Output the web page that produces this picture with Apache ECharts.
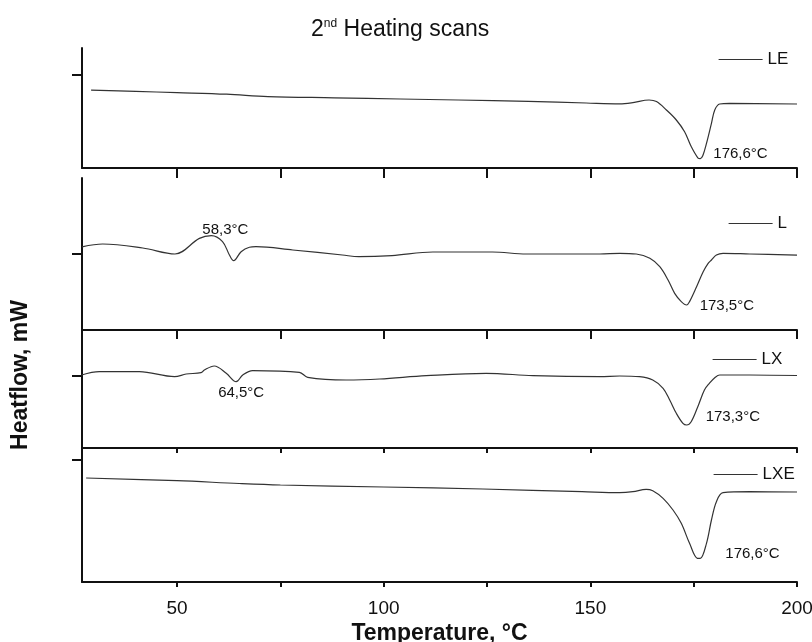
<!DOCTYPE html>
<html>
<head>
<meta charset="utf-8">
<script src="https://cdn.jsdelivr.net/npm/echarts@6/dist/echarts.min.js"></script>
<style>
  html, body { margin: 0; padding: 0; background: #fff; }
  #chart { width: 812px; height: 642px; }
</style>
</head>
<body>
<div id="chart"></div>
<script>
// ----------------------
// DATA (temperature °C, heat flow mW relative to each panel's tick)
// ----------------------
const leT = [29.2, 40, 50, 62, 72, 88, 104, 118, 135, 149, 157.1, 160.3, 164.2, 166, 168.4, 170.8, 172.8, 174.4, 176, 176.6, 177.2, 178.1, 179.3, 180.1, 181.3, 183.7, 200];
const leH = [-0.38, -0.41, -0.44, -0.48, -0.54, -0.57, -0.6, -0.625, -0.66, -0.7, -0.72, -0.69, -0.625, -0.665, -0.875, -1.125, -1.42, -1.79, -2.07, -2.09, -2.02, -1.71, -1.21, -0.875, -0.725, -0.71, -0.725];

const lT = [27, 32, 41.7, 49.5, 55.4, 58.3, 61, 62.7, 63.7, 65.5, 67.5, 69.1, 78, 90, 94, 102, 111.9, 126.3, 134.5, 152.3, 157.1, 161.1, 164.4, 166.8, 168.8, 170.4, 172, 173.3, 174, 175.7, 177.3, 178.5, 179.3, 180.5, 182.1, 188.6, 200];
const lH = [0.18, 0.25, 0.15, 0, 0.39, 0.458, 0.31, -0.03, -0.168, 0.058, 0.168, 0.183, 0.1, -0.025, -0.068, -0.04, 0.05, 0.05, 0, 0, 0.018, 0, -0.108, -0.318, -0.65, -0.983, -1.19, -1.275, -1.19, -0.818, -0.443, -0.233, -0.15, -0.025, 0.018, 0, -0.03];

const lxT = [26.9, 31.2, 40.9, 49.4, 52.2, 55.8, 56.6, 59, 61.9, 64.3, 65.9, 68.3, 79.6, 81.6, 90.9, 99, 110.3, 124.8, 136.1, 152.3, 157.1, 161.9, 165.1, 167.6, 169.2, 170.8, 172.4, 173.3, 174.4, 176, 177.6, 178.8, 180.1, 181.3, 188.6, 200];
const lxH = [0.025, 0.108, 0.108, -0.018, 0.05, 0.083, 0.15, 0.25, 0.068, -0.143, 0.025, 0.133, 0.093, -0.033, -0.1, -0.075, 0.008, 0.068, 0.008, -0.018, 0, -0.018, -0.1, -0.308, -0.6, -0.933, -1.183, -1.225, -1.143, -0.768, -0.35, -0.183, -0.043, 0.025, 0.025, 0.012];

const lxeT = [28, 50, 65, 75, 100, 124, 148, 157.1, 160.3, 163.5, 165.1, 167.6, 170, 172, 174, 175.9, 176.6, 178.1, 179.3, 180.5, 182.1, 188.6, 200];
const lxeH = [-0.45, -0.518, -0.588, -0.625, -0.675, -0.725, -0.793, -0.818, -0.793, -0.733, -0.768, -0.958, -1.25, -1.583, -2.083, -2.458, -2.46, -2.083, -1.5, -1.043, -0.818, -0.793, -0.8];

const names = ["LE", "L", "LX", "LXE"];
const xTicks = [50, 75, 100, 125, 150, 175, 200];
const xLabels = [50, 100, 150, 200];

// peak annotations: [temperature, heat flow, text]
const peaksLE = [[176.6, -2.09, "176,6°C"]];
const peaksL = [[58.3, 0.458, "58,3°C"], [173.3, -1.275, "173,5°C"]];
const peaksLX = [[64.3, -0.143, "64,5°C"], [173.3, -1.225, "173,3°C"]];
const peaksLXE = [[176.6, -2.46, "176,6°C"]];

// ----------------------
// LAYOUT
// ----------------------
const FONT = "'Liberation Sans', Arial, sans-serif";
const panels = [
  { top: 48, height: 120, yMin: -2.325, yMax: 0.675, tick: 10, legend: [718, 51] },
  { top: 178, height: 152, yMin: -1.9, yMax: 1.9, tick: 9, legend: [728, 215] },
  { top: 330, height: 118, yMin: -1.8, yMax: 1.15, tick: 5, legend: [712, 351] },
  { top: 448, height: 134, yMin: -3.05, yMax: 0.3, tick: 5, legend: [713, 466] },
];

const temps = [leT, lT, lxT, lxeT];
const flows = [leH, lH, lxH, lxeH];
const peaks = [peaksLE, peaksL, peaksLX, peaksLXE];
const labelOffsets = [
  [[13, -5]],
  [[14, 2], [13, 1]],
  [[5, 4], [19, -8]],
  [[25, -5]],
];
const labelPos = [["right"], ["top", "right"], ["bottom", "right"], ["right"]];

const axisLine = { show: true, onZero: false, lineStyle: { color: "#111", width: 2 } };

const chart = echarts.init(document.getElementById("chart"));

chart.setOption({
  backgroundColor: "#fff",
  animation: false,
  title: {
    text: "{n|2}{s|nd}{n| Heating scans}",
    left: 306,
    top: 13,
    textStyle: {
      rich: {
        n: { fontSize: 23, fontWeight: "normal", fontFamily: FONT, color: "#111" },
        s: { fontSize: 12, fontWeight: "normal", fontFamily: FONT, color: "#111", padding: [0, 0, 11, 0] },
      },
    },
  },
  legend: panels.map((p, i) => ({
    data: [names[i]],
    left: p.legend[0],
    top: p.legend[1],
    padding: 0,
    itemWidth: 44,
    itemHeight: 14,
    itemStyle: { color: "transparent", borderWidth: 0 },
    lineStyle: { color: "#333", width: 1.2 },
    textStyle: { fontSize: 17, fontFamily: FONT, color: "#111" },
  })),
  grid: panels.map((p) => ({
    left: 82,
    right: 15,
    top: p.top,
    height: p.height,
    containLabel: false,
    outerBoundsMode: "none",
  })),
  xAxis: panels.map((p, i) => ({
    type: "value",
    gridIndex: i,
    min: 27,
    max: 200,
    axisLine: axisLine,
    axisTick: { show: true, customValues: xTicks, length: p.tick, lineStyle: { color: "#111", width: 2 } },
    axisLabel: i === 3
      ? { show: true, customValues: xLabels, fontSize: 19, fontFamily: FONT, color: "#111", margin: 17 }
      : { show: false },
    splitLine: { show: false },
    name: i === 3 ? "Temperature, °C" : "",
    nameLocation: "middle",
    nameGap: 40,
    nameTextStyle: { fontSize: 23, fontWeight: "bold", fontFamily: FONT, color: "#111" },
  })),
  yAxis: panels.map((p, i) => ({
    type: "value",
    gridIndex: i,
    min: p.yMin,
    max: p.yMax,
    axisLine: axisLine,
    axisTick: { show: true, customValues: [0], length: 10, lineStyle: { color: "#111", width: 2 } },
    axisLabel: { show: false },
    splitLine: { show: false },
  })),
  graphic: [
    {
      type: "text",
      x: 21,
      y: 375,
      rotation: Math.PI / 2,
      style: {
        text: "Heatflow, mW",
        fontSize: 23,
        fontWeight: "bold",
        fontFamily: FONT,
        fill: "#111",
        align: "center",
        verticalAlign: "middle",
      },
    },
  ],
  series: names.map((n, i) => ({
    name: n,
    type: "line",
    xAxisIndex: i,
    yAxisIndex: i,
    symbol: "none",
    smooth: 0.35,
    lineStyle: { color: "#333", width: 1.2 },
    itemStyle: { color: "#333" },
    data: temps[i].map((t, k) => [t, flows[i][k]]),
    markPoint: {
      symbol: "circle",
      symbolSize: 0,
      data: peaks[i].map((pk, k) => ({
        coord: [pk[0], pk[1]],
        label: {
          show: true,
          formatter: pk[2],
          position: labelPos[i][k],
          distance: 0,
          offset: labelOffsets[i][k],
          fontSize: 15,
          fontFamily: FONT,
          color: "#111",
        },
      })),
    },
  })),
});
</script>
</body>
</html>
